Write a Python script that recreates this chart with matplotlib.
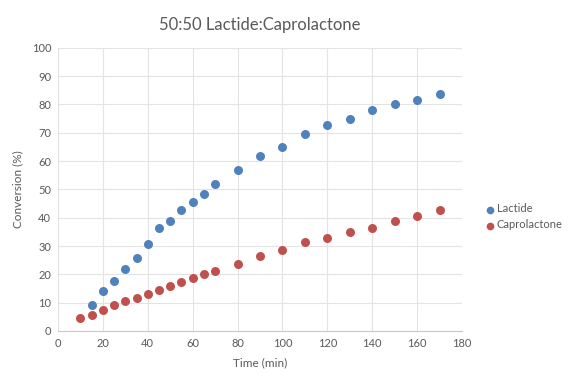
import matplotlib
matplotlib.use("Agg")
import matplotlib.pyplot as plt

# Reaction time points (min)
lactide_time = [15, 20, 25, 30, 35, 40, 45, 50, 55, 60, 65, 70, 80, 90, 100,
                110, 120, 130, 140, 150, 160, 170]
lactide_conv = [9.2, 14.0, 17.6, 22.0, 25.9, 30.7, 36.4, 38.8, 42.9, 45.5, 48.4,
                52.0, 56.9, 61.9, 65.1, 69.5, 72.7, 75.0, 78.0, 80.1, 81.7, 83.6]

capro_time = [10, 15, 20, 25, 30, 35, 40, 45, 50, 55, 60, 65, 70, 80, 90, 100,
              110, 120, 130, 140, 150, 160, 170]
capro_conv = [4.7, 5.8, 7.5, 9.1, 10.7, 11.7, 13.1, 14.6, 16.0, 17.2, 18.8, 20.0,
              21.3, 23.8, 26.5, 28.6, 31.6, 33.0, 35.1, 36.4, 38.8, 40.7, 42.9]

x_ticks = list(range(0, 181, 20))
y_ticks = list(range(0, 101, 10))

plt.rcParams['font.family'] = ['Lato', 'DejaVu Sans']
text_color = '#595959'

fig = plt.figure(figsize=(5.7, 3.74), dpi=100)
ax = fig.add_axes([0.1018, 0.115, 0.7087, 0.757])

ax.scatter(lactide_time, lactide_conv, s=42, color='#4F81BD', label='Lactide',
           zorder=3, linewidths=0)
ax.scatter(capro_time, capro_conv, s=42, color='#C0504D', label='Caprolactone',
           zorder=3, linewidths=0)

ax.set_xlim(0, 180)
ax.set_ylim(0, 100)
ax.set_xticks(x_ticks)
ax.set_yticks(y_ticks)
ax.grid(True, color='#E3E3E3', linewidth=0.8)
ax.set_axisbelow(True)
for side in ['top', 'right', 'left']:
    ax.spines[side].set_visible(False)
ax.spines['bottom'].set_color('#C8C8C8')
ax.tick_params(axis='both', length=0, labelsize=8, colors=text_color, pad=5)

ax.set_xlabel('Time (min)', fontsize=8.5, color=text_color, labelpad=6)
ax.set_ylabel('Conversion (%)', fontsize=8.5, color=text_color, labelpad=6)
ax.set_title('50:50 Lactide:Caprolactone', fontsize=12, color=text_color, pad=13)

leg = fig.legend(loc='center left', bbox_to_anchor=(0.842, 0.42), frameon=False,
                 fontsize=8, handletextpad=0.1, markerscale=0.85, labelspacing=0.45,
                 handlelength=1.0, borderaxespad=0.0)
for t in leg.get_texts():
    t.set_color(text_color)

fig.savefig('out.png', dpi=100)
